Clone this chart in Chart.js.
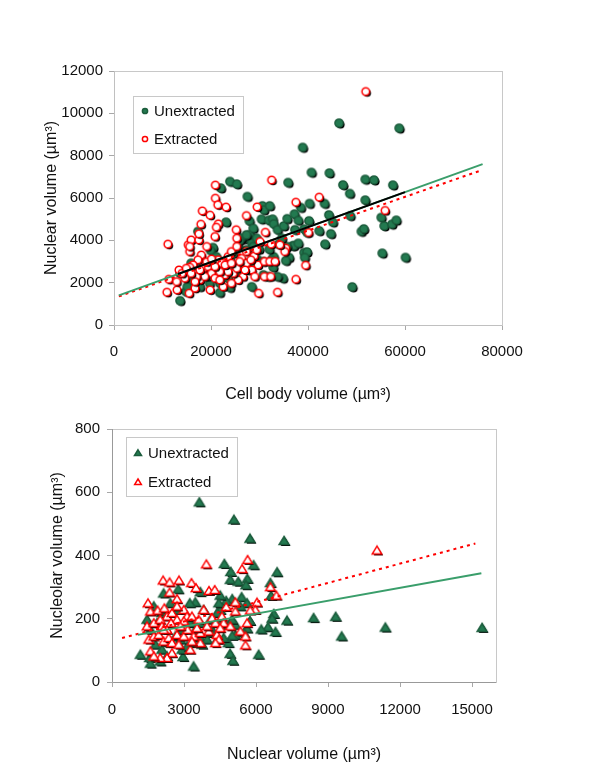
<!DOCTYPE html>
<html>
<head>
<meta charset="utf-8">
<script src="https://cdn.jsdelivr.net/npm/chart.js@4.4.0/dist/chart.umd.min.js"></script>
<style>
html, body { margin: 0; padding: 0; background: #fff; }
#wrapper { position: relative; width: 600px; height: 776px; }
#wrapper canvas { position: absolute; left: 0; }
</style>
</head>
<body>
<div id="wrapper">
    <canvas id="cTop" width="600" height="404" style="top:0"></canvas>
    <canvas id="cBottom" width="600" height="361" style="top:403px"></canvas>
</div>
<script>
"use strict";

// top chart: cell body volume vs nuclear volume  [x, y]
const topUnextracted = [
    [46400,9540],[58800,9300],[38900,8390],[40700,7210],[44400,7180],[47200,6620],[48600,6210],
    [51800,6880],[53600,6850],[57500,6610],[51800,5900],[40300,5740],[43400,5740],[42300,4450],
    [38500,5550],[40200,4920],[44300,5200],[45100,4860],[44700,4310],[43500,3820],[48700,5160],
    [51000,4420],[51500,4540],[55100,5080],[55700,4680],[57300,4760],[58200,4950],[55300,3390],
    [60100,3190],[49100,1800],[35900,6730],[23900,6780],[25300,6660],[22000,6470],[27500,6070],
    [30600,5630],[30900,5440],[32100,5630],[30400,5000],[31900,4950],[32700,5000],[32900,4780],
    [33700,4500],[35000,4680],[35700,5020],[37200,5240],[38000,4940],[37300,4500],[39200,4530],
    [39800,4370],[39200,3420],[39800,3450],[39300,3190],[36100,3190],[36800,3740],[37100,3750],
    [35400,3040],[34800,2210],[33700,2290],[32900,3230],[32800,2730],[32000,3580],[33900,3820],
    [27900,4920],[28000,4270],[26800,4070],[28400,3860],[28700,3710],[27300,3550],[23100,4860],
    [17300,4420],[20400,3660],[19900,3520],[29900,3580],[29400,3150],[30800,3000],[28800,2920],
    [26000,2920],[25300,2480],[23500,2210],[23900,1770],[21800,1530],[28400,1810],[30800,2370],
    [15600,2130],[14800,1580],[13600,1150],[15900,2920],[17700,2630],[19700,1970],[21100,2440],
    [22600,2570],[24600,2730],[26600,2920],[27700,2600],[21100,3230],[23900,3080],[24600,3390],
    [26300,4100],[25600,3710],[17700,1810],[21800,1970],[19400,2320],[13600,2440],[15100,1810],
    [31800,2290],[32500,3080],[35600,3710],[34600,4100],[38000,3860],[29400,4100],[25900,4000],
    [28700,4570],[27300,4260]
];
const topExtracted = [
    [51900,11030],[32500,6850],[20900,6610],[20900,5990],[21400,5680],[23100,5570],[18200,5390],
    [19800,5190],[17900,4760],[21500,4780],[21100,4620],[20800,4180],[25200,4500],[25300,4100],
    [27300,5170],[29500,5580],[31200,4380],[37500,5800],[42300,6040],[55900,5410],[40100,4370],
    [39500,2820],[37500,2160],[33700,1550],[29800,1500],[11100,3820],[10900,1550],[11300,2160],
    [13400,2600],[13000,1660],[15300,3790],[15900,4020],[17500,4020],[17500,4310],[19100,3710],
    [15600,3470],[18000,3310],[17300,3080],[16300,2840],[15600,2730],[14600,2210],[15500,1500],
    [16700,1740],[17700,2130],[18400,2680],[19400,2760],[20100,2440],[20800,2210],[19800,1660],
    [21500,3080],[22200,2920],[22900,2370],[22500,1810],[23500,3230],[24200,3470],[25300,3710],
    [26300,3150],[27300,3470],[27300,2920],[28400,2600],[29000,2290],[26600,2290],[25600,2130],
    [24600,2440],[23500,2520],[21800,2520],[29700,2840],[31000,3000],[32100,3000],[33200,3000],
    [31000,2290],[32300,2290],[28900,3260],[29400,3550],[30100,3940],[32400,3820],[35400,3630],
    [35200,3470],[19100,2990],[18700,2290],[20800,2760],[21800,2130],[17000,2290],[14000,2440],
    [12900,2050],[16700,2050],[24200,1970],[25300,2680],[25900,3000],[28200,3080],[22900,2840],
    [20100,3120],[27000,2600],[34200,3790],[17700,2600],[14900,2680],[15900,2440],[24200,2920],
    [15600,3710]
];
const topUnextractedFit = [[1000,1400],[76000,7600]];
const topUnextractedFitRange = [[13200,2408],[60000,6277]];
const topExtractedFit = [[1000,1350],[75500,7290]];
const topXTicks = [0, 20000, 40000, 60000, 80000];
const topYTicks = [0, 2000, 4000, 6000, 8000, 10000, 12000];

// bottom chart: nuclear volume vs nucleolar volume  [x, y]
const botUnextracted = [
    [3640,568],[5080,513],[5750,453],[7170,446],[4680,373],[4950,348],[5900,369],[6880,347],
    [4930,323],[5260,317],[5640,326],[5580,306],[6600,313],[6630,272],[5400,268],[5010,262],
    [4760,256],[4510,273],[2760,293],[2150,280],[3680,284],[3470,252],[3240,249],[6740,215],
    [6670,200],[7290,194],[8400,202],[9320,206],[9570,144],[11390,172],[15420,171],[6500,173],
    [6810,158],[6220,166],[5750,193],[5630,169],[5490,155],[5140,149],[5010,146],[4850,123],
    [4920,89],[5040,67],[6110,86],[1180,86],[1570,76],[1600,58],[2010,65],[2960,79],[3400,49],
    [1810,118],[2920,102],[3130,112],[2850,134],[3680,139],[3960,134],[4380,134],[4650,139],
    [4170,165],[4450,186],[4720,181],[5140,181],[5000,197],[4510,228],[4380,218],[4100,197],
    [3680,186],[3470,165],[3200,197],[2920,165],[2640,144],[2360,123],[2080,102],[1880,186],
    [2080,218],[2430,249],[2710,228],[1740,239],[1460,197],[1600,165],[3750,118],[3400,123],
    [5630,249],[5350,239],[4450,249],[3820,228],[3260,186],[2290,81],[4170,155]
];
const botExtracted = [
    [11040,416],[3930,372],[5650,386],[5420,357],[2130,321],[2400,315],[2790,321],[3310,313],
    [3500,297],[4040,288],[4280,291],[6600,300],[6850,273],[1500,249],[2400,283],[2710,262],
    [6040,251],[5970,228],[5760,226],[5140,252],[4760,237],[1460,176],[1600,223],[1900,226],
    [2180,233],[2290,207],[2500,218],[2710,197],[2990,228],[3130,207],[3330,207],[3610,197],
    [3820,228],[4170,202],[4310,186],[4580,207],[4650,186],[1740,186],[2010,197],[2080,176],
    [2290,165],[2460,186],[2710,149],[2990,144],[3150,165],[3400,144],[3680,155],[4030,160],
    [4380,149],[4450,134],[4310,123],[3680,123],[3260,102],[2500,91],[2290,76],[2010,76],
    [1600,97],[1530,134],[1740,144],[1950,149],[2150,128],[2360,139],[2500,123],[2780,118],
    [1740,81],[5350,160],[5560,144],[5560,116],[5140,223],[5630,186],[4510,170],[4930,176],
    [3330,128],[3960,176],[2710,239],[2990,192],[2150,165],[2850,176],[3540,170]
];
const botUnextractedFit = [[1070,149],[15390,344]];
const botExtractedFit = [[420,139],[15140,438]];
const botXTicks = [0, 3000, 6000, 9000, 12000, 15000];
const botYTicks = [0, 200, 400, 600, 800];

const seriesNames = ["Unextracted", "Extracted"];

const FONT = "'Liberation Sans', Arial, sans-serif";
const GREEN = "#237a50";
const RED = "#ff0000";

// small canvases used as point styles (shape with a black drop shadow)
function makeMarker(shape, fill, stroke, size, shadow) {
    let c = document.createElement("canvas");
    c.width = 18; c.height = 18;
    let g = c.getContext("2d");
    function path(dx, dy) {
        let cx = 9 + dx, cy = 9 + dy;
        g.beginPath();
        if (shape == "circle")
            g.arc(cx, cy, size, 0, Math.PI * 2);
        else {
            g.moveTo(cx, cy - size);
            g.lineTo(cx + size * 1.1, cy + size * 0.8);
            g.lineTo(cx - size * 1.1, cy + size * 0.8);
            g.closePath();
        }
    }
    if (shadow) {
        path(1.5, 1.5);
        g.fillStyle = "#000";
        g.fill();
    }
    path(0, 0);
    g.fillStyle = fill;
    g.fill();
    g.lineWidth = 1.5;
    g.strokeStyle = stroke;
    g.stroke();
    return c;
}

const mkGreenCircle = makeMarker("circle", GREEN, "#1b5c3c", 4.1, true);
const mkRedCircle = makeMarker("circle", "#fff", RED, 3.8, true);
const mkGreenTri = makeMarker("tri", GREEN, "#1b5c3c", 4.5, true);
const mkRedTri = makeMarker("tri", "#fff", RED, 4.3, true);
const lgGreenCircle = makeMarker("circle", GREEN, "#1b5c3c", 2.6, false);
const lgRedCircle = makeMarker("circle", "#fff", RED, 2.6, false);
const lgGreenTri = makeMarker("tri", GREEN, "#1b5c3c", 3.2, false);
const lgRedTri = makeMarker("tri", "#fff", RED, 3.0, false);

function toPoints(arr) {
    return arr.map(p => ({ x: p[0], y: p[1] }));
}

// frame round the plot area
const framePlugin = {
    id: "frame",
    beforeDatasetsDraw(chart, args, opts) {
        let a = chart.chartArea;
        let ctx = chart.ctx;
        ctx.save();
        ctx.lineWidth = 1;
        ctx.strokeStyle = opts.color;
        ctx.strokeRect(Math.round(a.left) + 0.5, Math.round(a.top) + 0.5,
            Math.round(a.right - a.left), Math.round(a.bottom - a.top));
        ctx.strokeStyle = opts.axisColor;
        ctx.beginPath();
        ctx.moveTo(Math.round(a.left) + 0.5, Math.round(a.top));
        ctx.lineTo(Math.round(a.left) + 0.5, Math.round(a.bottom) + 0.5);
        ctx.lineTo(Math.round(a.right), Math.round(a.bottom) + 0.5);
        ctx.stroke();
        ctx.restore();
    }
};

// legend box drawn inside the plot area
const boxLegendPlugin = {
    id: "boxLegend",
    afterDatasetsDraw(chart, args, opts) {
        let a = chart.chartArea;
        let ctx = chart.ctx;
        let x = Math.round(a.left + opts.dx), y = Math.round(a.top + opts.dy);
        ctx.save();
        ctx.fillStyle = "#fff";
        ctx.fillRect(x, y, opts.w, opts.h);
        ctx.strokeStyle = "#c8c8c8";
        ctx.lineWidth = 1;
        ctx.strokeRect(x + 0.5, y + 0.5, opts.w, opts.h);
        ctx.font = "15px " + FONT;
        ctx.fillStyle = "#111";
        ctx.textBaseline = "middle";
        opts.items.forEach(function(it, i) {
            let cy = y + opts.rowY[i];
            ctx.drawImage(it.marker, x + opts.markX - it.marker.width / 2, cy - it.marker.height / 2);
            ctx.fillText(it.label, x + opts.textX, cy + 1);
        });
        ctx.restore();
    }
};

function axis(min, max, ticks, title, isX, size, tickPad, titlePad) {
    return {
        type: "linear",
        min: min,
        max: max,
        afterBuildTicks: function(s) { s.ticks = ticks.map(v => ({ value: v })); },
        afterFit: function(s) {
            if (isX) s.height = size;
            else s.width = size;
        },
        grid: { drawOnChartArea: false, drawTicks: true, tickLength: 5, color: "#a8a8a8" },
        border: { display: false },
        ticks: {
            padding: tickPad,
            color: "#111",
            autoSkip: false,
            maxRotation: 0,
            font: { family: FONT, size: 15 },
            callback: v => String(v)
        },
        title: {
            display: true,
            text: title,
            color: "#111",
            font: { family: FONT, size: 16 },
            padding: isX ? { top: 0, bottom: 0 } : { top: titlePad, bottom: 0 }
        }
    };
}

function scatterSet(data, marker, order) {
    return {
        data: toPoints(data),
        pointStyle: marker,
        pointRadius: 4,
        order: order
    };
}

function lineSet(data, color, width, dash, order) {
    return {
        data: toPoints(data),
        showLine: true,
        borderColor: color,
        borderWidth: width,
        borderDash: dash,
        pointRadius: 0,
        order: order
    };
}

function baseOptions(padding, xAxis, yAxis, frame, legend) {
    return {
        responsive: false,
        animation: false,
        events: [],
        layout: { padding: padding },
        scales: { x: xAxis, y: yAxis },
        plugins: {
            legend: { display: false },
            tooltip: { enabled: false },
            frame: frame,
            boxLegend: legend
        }
    };
}

new Chart(document.getElementById("cTop"), {
    type: "scatter",
    data: {
        datasets: [
            lineSet(topUnextractedFitRange, "#000", 2, [], -1),
            lineSet(topUnextractedFit, "#3a9e6b", 2, [], 0),
            lineSet(topExtractedFit, RED, 2, [3, 4], 0),
            scatterSet(topExtracted, mkRedCircle, 1),
            scatterSet(topUnextracted, mkGreenCircle, 2)
        ]
    },
    options: baseOptions(
        { top: 71, right: 98, left: 0, bottom: 0 },
        axis(0, 80000, topXTicks, "Cell body volume (µm³)", true, 79, 13, 0),
        axis(0, 12000, topYTicks, "Nuclear volume (µm³)", false, 114, 6, 42),
        { color: "#c8c8c8", axisColor: "#c0c0c0" },
        {
            dx: 19, dy: 25, w: 110, h: 57, markX: 12, textX: 21, rowY: [15, 43],
            items: [
                { label: seriesNames[0], marker: lgGreenCircle },
                { label: seriesNames[1], marker: lgRedCircle }
            ]
        }
    ),
    plugins: [framePlugin, boxLegendPlugin]
});

new Chart(document.getElementById("cBottom"), {
    type: "scatter",
    data: {
        datasets: [
            lineSet(botUnextractedFit, "#3a9e6b", 2, [], 0),
            lineSet(botExtractedFit, RED, 2, [3, 4], 0),
            scatterSet(botExtracted, mkRedTri, 1),
            scatterSet(botUnextracted, mkGreenTri, 2)
        ]
    },
    options: baseOptions(
        { top: 26, right: 104, left: 0, bottom: 0 },
        axis(0, 16000, botXTicks, "Nuclear volume (µm³)", true, 82, 14, 0),
        axis(0, 800, botYTicks, "Nucleolar volume (µm³)", false, 112, 7, 48),
        { color: "#c8c8c8", axisColor: "#999" },
        {
            dx: 14, dy: 8, w: 111, h: 59, markX: 12, textX: 22, rowY: [16, 45],
            items: [
                { label: seriesNames[0], marker: lgGreenTri },
                { label: seriesNames[1], marker: lgRedTri }
            ]
        }
    ),
    plugins: [framePlugin, boxLegendPlugin]
});
</script>
</body>
</html>
